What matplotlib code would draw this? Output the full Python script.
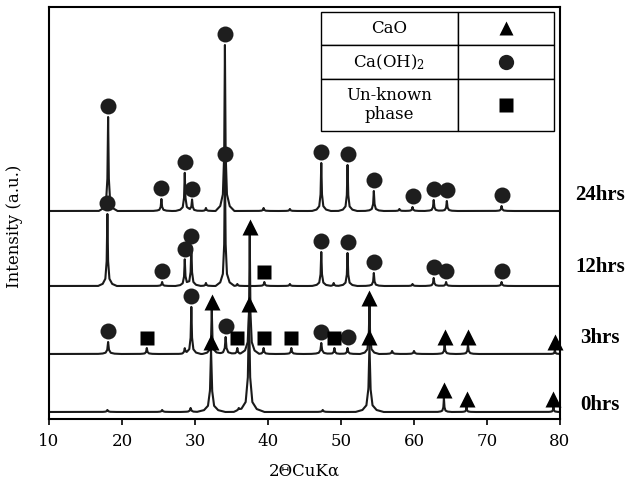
import numpy as np
import matplotlib.pyplot as plt

plt.rcParams['font.family'] = ['DejaVu Serif']
plt.rcParams['mathtext.default'] = 'regular'

# XRD peaks: 2theta, height above own baseline (a.u.), phase
# phase: 't' = CaO, 'c' = Ca(OH)2, 's' = unknown phase, '' = unmarked
samples = ['0hrs', '3hrs', '12hrs', '24hrs']
offsets = [7, 65, 133, 208]
label_y = [14, 81, 152, 224]

pos_0 = [18.0, 25.5, 29.4, 32.2, 36.0, 37.4, 47.5, 53.9, 64.1, 67.2, 79.1]
hgt_0 = [2, 2, 4, 62, 2, 100, 2, 67, 14, 5, 5]
wid_0 = [1, 1, 1, 1.2, 1, 1.3, 1, 1.2, 0.6, 0.6, 0.6]
phs_0 = ['', '', '', 't', '', 't', '', 't', 't', 't', 't']

pos_3 = [18.1, 23.4, 28.6, 29.5, 32.3, 34.2, 35.8, 37.5, 39.4, 43.2,
         47.3, 49.1, 50.9, 53.9, 57.0, 60.0, 64.2, 67.4, 79.3]
hgt_3 = [12, 6, 5, 47, 44, 17, 6, 119, 6, 6, 11, 6, 6, 48, 3, 3, 9, 9, 4]
wid_3 = [1, 0.8, 0.8, 0.8, 0.8, 1, 0.8, 0.8, 0.8, 0.8, 1, 0.8, 0.8, 0.8, 1, 1, 0.8, 0.8, 0.6]
phs_3 = ['c', 's', '', 'c', 't', 'c', 's', 't', 's', 's',
         'c', 's', 'c', 't', '', '', 't', 't', 't']

pos_12 = [18.0, 25.5, 28.6, 29.5, 31.5, 34.1, 35.8, 39.5, 43.0,
          47.3, 49.0, 50.9, 54.5, 59.8, 62.7, 64.4, 72.0]
hgt_12 = [72, 4, 26, 39, 3, 121, 2, 4, 2, 34, 3, 33, 13, 2, 8, 4, 4]
wid_12 = [0.8] * len(pos_12)
phs_12 = ['c', 'c', 'c', 'c', '', 'c', '', 's', '',
          'c', '', 'c', 'c', '', 'c', 'c', 'c']

pos_24 = [18.1, 25.4, 28.6, 29.6, 31.5, 34.1, 39.4, 43.0, 47.3,
          50.9, 54.5, 58.0, 59.8, 62.7, 64.5, 72.0]
hgt_24 = [94, 12, 38, 11, 3, 166, 3, 2, 48, 46, 20, 2, 4, 11, 10, 5]
wid_24 = [0.8] * len(pos_24)
phs_24 = ['c', 'c', 'c', 'c', '', 'c', '', '', 'c',
          'c', 'c', '', 'c', 'c', 'c', 'c']

peaks = [(pos_0, hgt_0, wid_0, phs_0), (pos_3, hgt_3, wid_3, phs_3),
         (pos_12, hgt_12, wid_12, phs_12), (pos_24, hgt_24, wid_24, phs_24)]

# peak shape template (fraction of height vs. distance in degrees)
prof_dx = [-1.6, -0.8, -0.35, -0.12, 0, 0.12, 0.35, 0.8, 1.6]
prof_f = [0, 0.03, 0.1, 0.35, 1, 0.35, 0.1, 0.03, 0]

mk_style = {
    't': dict(marker='^', ms=11, color='black', pad=8),
    'c': dict(marker='o', ms=11.5, color='#1e1e1e', pad=11),
    's': dict(marker='s', ms=10.5, color='black', pad=10),
}

fig = plt.figure(figsize=(6.37, 4.79), dpi=100)
ax = fig.add_axes([0.0769, 0.1253, 0.8022, 0.8601])

theta = np.arange(10, 80.001, 0.02)
for off, (pos, hgt, wid, phs) in zip(offsets, peaks):
    inten = np.zeros_like(theta)
    for p, h, w in zip(pos, hgt, wid):
        inten += h * np.interp((theta - p) / w, prof_dx, prof_f, left=0, right=0)
    ax.plot(theta, inten + off, color='#1a1a1a', lw=1.5, zorder=2)
    for key, st in mk_style.items():
        xs = [p for p, ph in zip(pos, phs) if ph == key]
        ys = [off + h + st['pad'] for h, ph in zip(hgt, phs) if ph == key]
        ax.plot(xs, ys, ls='none', marker=st['marker'], ms=st['ms'],
                color=st['color'], mec='none', zorder=3, clip_on=False)

for name, y in zip(samples, label_y):
    ax.text(1.078, y, name, transform=ax.get_yaxis_transform(), ha='center',
            va='center', fontsize=15, fontweight='bold', family='Liberation Serif')

ax.set_xlim(10, 80)
ax.set_ylim(0, 412)
ax.set_xticks(range(10, 81, 10))
ax.set_yticks([])
ax.tick_params(axis='x', direction='out', length=4, width=1.2, labelsize=12, pad=6)
for sp in ax.spines.values():
    sp.set_linewidth(1.5)
ax.set_xlabel('2ΘCuKα', fontsize=12, labelpad=9)
ax.set_ylabel('Intensity (a.u.)', fontsize=12)
ax.yaxis.set_label_coords(-0.051, 0.468)

# legend table
cell_text = [['CaO', ''], ['Ca(OH)$_2$', ''], ['Un-known\nphase', '']]
tb = ax.table(cellText=cell_text, cellLoc='center', colWidths=[137, 96],
              bbox=[0.532, 0.699, 0.456, 0.289], zorder=4)
tb.auto_set_font_size(False)
tb.set_fontsize(12)
for r, rh in enumerate([33, 34, 52]):
    for c in range(2):
        cell = tb[r, c]
        cell.set_height(rh)
        cell.set_linewidth(1.0)
        cell.set_facecolor('white')
leg_y = [0.948, 0.867, 0.762]
for key, y, ms in zip(['t', 'c', 's'], leg_y, [10, 11, 9.5]):
    st = mk_style[key]
    ax.plot([0.894], [y], transform=ax.transAxes, marker=st['marker'], ms=ms,
            color=st['color'], mec='none', zorder=5)

fig.savefig('out.png', dpi=100)
